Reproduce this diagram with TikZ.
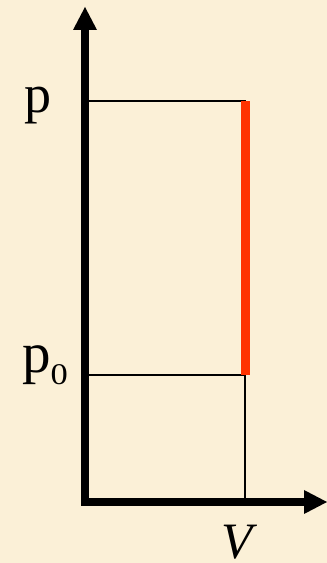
\documentclass[tikz,border=0pt]{standalone}
\usepackage{fontspec}
\setmainfont{Liberation Serif}
\usepackage{tikz}
\usetikzlibrary{arrows.meta, positioning}
\definecolor{parchment}{RGB}{251,240,215}
\definecolor{isored}{RGB}{255,51,0}

\begin{document}
\begin{tikzpicture}[
  x=1pt, y=1pt,
  axis/.style={line width=8.5pt, line join=miter,
               {Triangle[length=23pt,width=24pt,line width=0pt]}-{Triangle[length=23pt,width=24pt,line width=0pt]}},
  guide/.style={line width=2pt, line cap=rect},
  isoline/.style={line width=9pt, draw=isored},
  lbl/.style={inner sep=0pt, font=\fontsize{54}{54}\selectfont}
]

\fill[parchment] (0,0) rectangle (327,563);
\useasboundingbox (0,0) rectangle (327,563);

\coordinate (O)    at (85,61);
\coordinate (ytop) at (85,556);
\coordinate (xend) at (327,61);
\coordinate (Ap)   at (85,461.5);
\coordinate (Bp)   at (244.5,461.5);
\coordinate (Ap0)  at (85,188);
\coordinate (Bp0)  at (244.5,188);
\coordinate (BV)   at (244.5,61);

% guide lines
\draw[guide] (Ap) -- (Bp) -- (BV);
\draw[guide] (Ap0) -- (Bp0);

% isochoric step
\draw[isoline] (245.5,461.5) -- (245.5,188);

% axes
\draw[axis] (ytop) -- (O) -- (xend);

% labels
\node[lbl, anchor=base west] (lp)  at (24,450) {p};
\node[lbl, anchor=base west, font=\fontsize{57}{57}\selectfont] (lp0) at (22,190)
  {p\raisebox{-12pt}{\scalebox{1.15}[1]{\fontsize{30}{30}\selectfont 0}}};
\node[lbl, anchor=base, font=\fontsize{51}{51}\selectfont\itshape] (lV) at (237,5) {V};

\end{tikzpicture}
\end{document}
